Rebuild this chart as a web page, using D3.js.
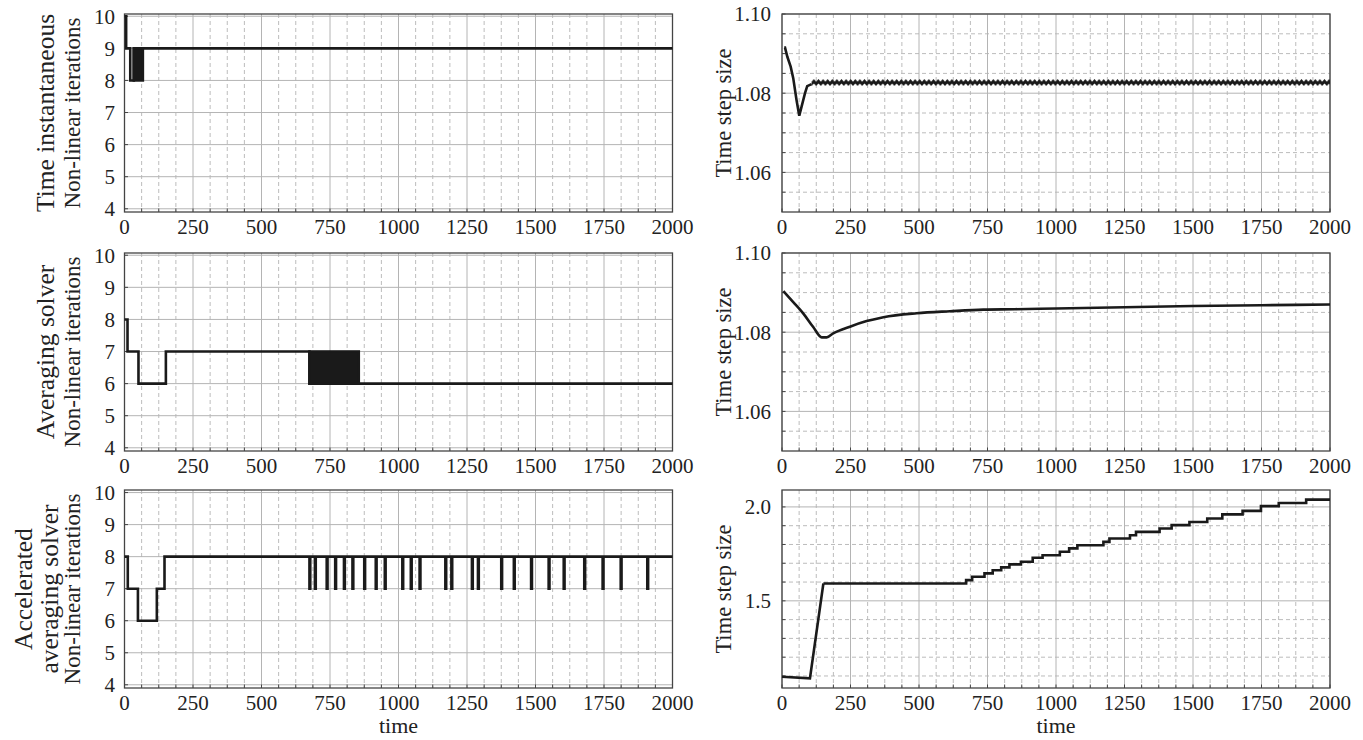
<!DOCTYPE html>
<head>
<meta charset="utf-8">
<title>Non-linear iterations and time step size</title>
<script src="https://d3js.org/d3.v7.min.js"></script>
<style>
body { margin: 0; background: #fff; }
text { font-family: "Liberation Serif", "Times New Roman", serif; fill: #222; }
.grid-major { stroke: #b4b4b4; stroke-width: 1; }
.grid-minor { stroke: #bcbcbc; stroke-width: 1; stroke-dasharray: 4,3; }
.frame { fill: none; stroke: #444; stroke-width: 1.3; }
.tick { stroke: #444; stroke-width: 1; }
.series { fill: none; stroke: #1a1a1a; stroke-width: 2.6; }
</style>
</head>
<body>
<div id="vis-canvas"></div>
<script>
//----------------------------DATA-------------------------------//
// x axis ticks (time)
var xTicks = [0, 250, 500, 750, 1000, 1250, 1500, 1750, 2000];

// left column: non-linear iterations (step changes: time, value)
var tiT = [0, 6, 21, 34];
var tiV = [10, 9, 8, 9];
var tiBands = [[34, 67, 8, 9]];          // dense 8/9 switching

var avT = [0, 11, 51, 151, 675];
var avV = [8, 7, 6, 7, 6];
var avBands = [[675, 855, 6, 7]];        // dense 6/7 switching

var acT = [0, 12, 49, 118, 146];
var acV = [8, 7, 6, 7, 8];
var acDips = [675, 695, 738, 769, 801, 832, 875, 917, 950, 1014, 1045, 1077,
              1171, 1193, 1268, 1290, 1375, 1421, 1484, 1548, 1603, 1678,
              1745, 1811, 1908];        // one-step drops from 8 to 7

var iterTicks = [4, 5, 6, 7, 8, 9, 10];

// right column: time step size
var trT = [8, 11, 19.5, 31.6, 41, 53, 63, 71.5, 84, 92, 108];
var trV = [1.0915, 1.0915, 1.0892, 1.0867, 1.0838, 1.0783, 1.0743, 1.0766, 1.0800, 1.0818, 1.0823];
var trRipple = [108, 2000, 1.0827];      // small oscillation around this value

var mrT = [5, 41, 78, 114, 145, 163, 187, 248, 309, 370, 492, 613, 735, 850, 1000, 1250, 1500, 1750, 2000];
var mrV = [1.0904, 1.0876, 1.0847, 1.0813, 1.0787, 1.0787, 1.0797, 1.0814, 1.0828, 1.0838,
           1.0848, 1.0853, 1.0857, 1.0858, 1.0860, 1.0863, 1.0866, 1.0868, 1.0870];

var brRampT = [0, 102, 151];
var brRampV = [1.096, 1.087, 1.5925];
var brStepT = [151, 672, 694, 739, 769, 800, 830, 872, 915, 951, 1014, 1048, 1078,
               1173, 1195, 1270, 1292, 1378, 1422, 1487, 1552, 1607, 1681, 1748, 1813, 1913];
var brStepV = [1.5925, 1.610, 1.628, 1.646, 1.663, 1.678, 1.694, 1.708, 1.729, 1.743, 1.761, 1.779, 1.796,
               1.814, 1.832, 1.849, 1.867, 1.885, 1.903, 1.920, 1.938, 1.960, 1.979, 2.004, 2.021, 2.039];

var smallMajor = [1.06, 1.08, 1.10];
var smallMinor = [1.055, 1.065, 1.07, 1.075, 1.085, 1.09, 1.095];
var smallLabels = ["1.06", "1.08", "1.10"];
var bigMajor = [1.5, 2.0];
var bigMinor = [1.1, 1.2, 1.3, 1.4, 1.6, 1.7, 1.8, 1.9];
var bigLabels = ["1.5", "2.0"];

//-----------------------------SVG-------------------------------//
var W = 1363, H = 740;
var pw = 548, ph = 198;
var colLeft = [124.5, 782];
var rowTop = [14, 253, 490];

var svg = d3.select("div#vis-canvas").append("svg")
    .attr("width", W)
    .attr("height", H);

var defs = svg.append("defs");
var rip = defs.append("pattern")
    .attr("id", "ripple")
    .attr("patternUnits", "userSpaceOnUse")
    .attr("width", 4.6)
    .attr("height", 7);
rip.append("path")
    .attr("d", "M-2.3,2.2 L0,4.8 L2.3,2.2 L4.6,4.8 L6.9,2.2")
    .attr("fill", "none")
    .attr("stroke", "#1a1a1a")
    .attr("stroke-width", 2.8);

//---------------------------PANELS------------------------------//
function panel(col, row, yDomain, yMajor, yMinor, yLabels, xTitle) {
    var left = colLeft[col], top = rowTop[row];
    var x = d3.scaleLinear().domain([0, 2000]).range([left, left + pw]);
    var y = d3.scaleLinear().domain(yDomain).range([top + ph, top]);
    var g = svg.append("g");

    var xMinor = d3.range(62.5, 2000, 62.5).filter(function(d) { return d % 250 !== 0; });

    g.selectAll(".vmin").data(xMinor).enter().append("line")
        .attr("class", "grid-minor")
        .attr("x1", x).attr("x2", x)
        .attr("y1", top).attr("y2", top + ph);
    g.selectAll(".hmin").data(yMinor).enter().append("line")
        .attr("class", "grid-minor")
        .attr("x1", left).attr("x2", left + pw)
        .attr("y1", y).attr("y2", y);
    g.selectAll(".vmaj").data(xTicks).enter().append("line")
        .attr("class", "grid-major")
        .attr("x1", x).attr("x2", x)
        .attr("y1", top).attr("y2", top + ph);
    g.selectAll(".hmaj").data(yMajor).enter().append("line")
        .attr("class", "grid-major")
        .attr("x1", left).attr("x2", left + pw)
        .attr("y1", y).attr("y2", y);

    // inward ticks
    g.selectAll(".xt").data(xTicks.concat(xMinor)).enter().append("line")
        .attr("class", "tick")
        .attr("x1", x).attr("x2", x)
        .attr("y1", top + ph).attr("y2", top + ph - 3.5);
    g.selectAll(".yt").data(yMajor.concat(yMinor)).enter().append("line")
        .attr("class", "tick")
        .attr("x1", left).attr("x2", left + 3.5)
        .attr("y1", y).attr("y2", y);

    g.append("rect")
        .attr("class", "frame")
        .attr("x", left).attr("y", top)
        .attr("width", pw).attr("height", ph);

    g.selectAll(".xl").data(xTicks).enter().append("text")
        .attr("x", x)
        .attr("y", top + ph + 22)
        .attr("text-anchor", "middle")
        .style("font-size", "21px")
        .text(function(d) { return d; });
    g.selectAll(".yl").data(yMajor).enter().append("text")
        .attr("x", left - (col === 0 ? 9.5 : 11))
        .attr("y", y)
        .attr("dy", "0.35em")
        .attr("text-anchor", "end")
        .style("font-size", "21px")
        .text(function(d, i) { return yLabels[i]; });

    if (xTitle) {
        g.append("text")
            .attr("x", left + pw / 2)
            .attr("y", 733)
            .attr("text-anchor", "middle")
            .style("font-size", "22px")
            .text("time");
    }
    return {x: x, y: y, g: g, top: top};
}

function ylabel(g, lines, xs, sizes, cy) {
    lines.forEach(function(s, i) {
        g.append("text")
            .attr("transform", "translate(" + xs[i] + "," + cy + ") rotate(-90)")
            .attr("text-anchor", "middle")
            .style("font-size", sizes[i] + "px")
            .text(s);
    });
}

function stepPoints(T, V) {
    var pts = T.map(function(t, i) { return [t, V[i]]; });
    pts.push([2000, V[V.length - 1]]);
    return pts;
}

function drawSteps(p, pts) {
    var line = d3.line()
        .x(function(d) { return p.x(d[0]); })
        .y(function(d) { return p.y(d[1]); })
        .curve(d3.curveStepAfter);
    p.g.append("path").attr("class", "series").attr("d", line(pts));
}

function drawBands(p, bands) {
    p.g.selectAll(".band").data(bands).enter().append("rect")
        .attr("x", function(d) { return p.x(d[0]); })
        .attr("width", function(d) { return p.x(d[1]) - p.x(d[0]); })
        .attr("y", function(d) { return p.y(d[3]); })
        .attr("height", function(d) { return p.y(d[2]) - p.y(d[3]); })
        .attr("fill", "#1a1a1a")
        .attr("stroke", "#1a1a1a")
        .attr("stroke-width", 2.6);
}

var iterLabels = iterTicks.map(String);

//--------------------------LEFT COLUMN--------------------------//
var p1 = panel(0, 0, [3.9, 10.07], iterTicks, [], iterLabels, false);
drawSteps(p1, stepPoints(tiT, tiV));
drawBands(p1, tiBands);
ylabel(p1.g, ["Time instantaneous", "Non-linear iterations"], [54, 80], [25.5, 23], p1.top + ph / 2);

var p2 = panel(0, 1, [3.9, 10.07], iterTicks, [], iterLabels, false);
drawSteps(p2, stepPoints(avT, avV));
drawBands(p2, avBands);
ylabel(p2.g, ["Averaging solver", "Non-linear iterations"], [54, 80], [25.5, 23], p2.top + ph / 2);

var p3 = panel(0, 2, [3.9, 10.08], iterTicks, [], iterLabels, true);
var acPts = stepPoints(acT, acV);
acDips.forEach(function(t) { acPts.push([t, 7]); acPts.push([t + 3, 8]); });
acPts.sort(function(a, b) { return a[0] - b[0]; });
drawSteps(p3, acPts);
ylabel(p3.g, ["Accelerated", "averaging solver", "Non-linear iterations"], [32, 58, 80], [25.5, 25.5, 23], p3.top + ph / 2);

//-------------------------RIGHT COLUMN--------------------------//
var q1 = panel(1, 0, [1.05, 1.10], smallMajor, smallMinor, smallLabels, false);
var lin1 = d3.line().x(function(d, i) { return q1.x(trT[i]); }).y(function(d) { return q1.y(d); });
q1.g.append("path").attr("class", "series").attr("d", lin1(trV));
q1.g.append("rect")
    .attr("x", q1.x(trRipple[0]))
    .attr("width", q1.x(trRipple[1]) - q1.x(trRipple[0]))
    .attr("y", q1.y(trRipple[2]) - 3.5)
    .attr("height", 7)
    .attr("fill", "url(#ripple)");
rip.attr("x", q1.x(trRipple[0])).attr("y", q1.y(trRipple[2]) - 3.5);
ylabel(q1.g, ["Time step size"], [731], [22.5], q1.top + ph / 2);

var q2 = panel(1, 1, [1.05, 1.10], smallMajor, smallMinor, smallLabels, false);
var lin2 = d3.line().x(function(d, i) { return q2.x(mrT[i]); }).y(function(d) { return q2.y(d); })
    .curve(d3.curveMonotoneX);
q2.g.append("path").attr("class", "series").attr("d", lin2(mrV));
ylabel(q2.g, ["Time step size"], [731], [22.5], q2.top + ph / 2);

var q3 = panel(1, 2, [1.036, 2.09], bigMajor, bigMinor, bigLabels, true);
var lin3 = d3.line().x(function(d, i) { return q3.x(brRampT[i]); }).y(function(d) { return q3.y(d); });
q3.g.append("path").attr("class", "series").attr("d", lin3(brRampV));
drawSteps(q3, stepPoints(brStepT, brStepV));
ylabel(q3.g, ["Time step size"], [731], [22.5], q3.top + ph / 2);
</script>
</body>
